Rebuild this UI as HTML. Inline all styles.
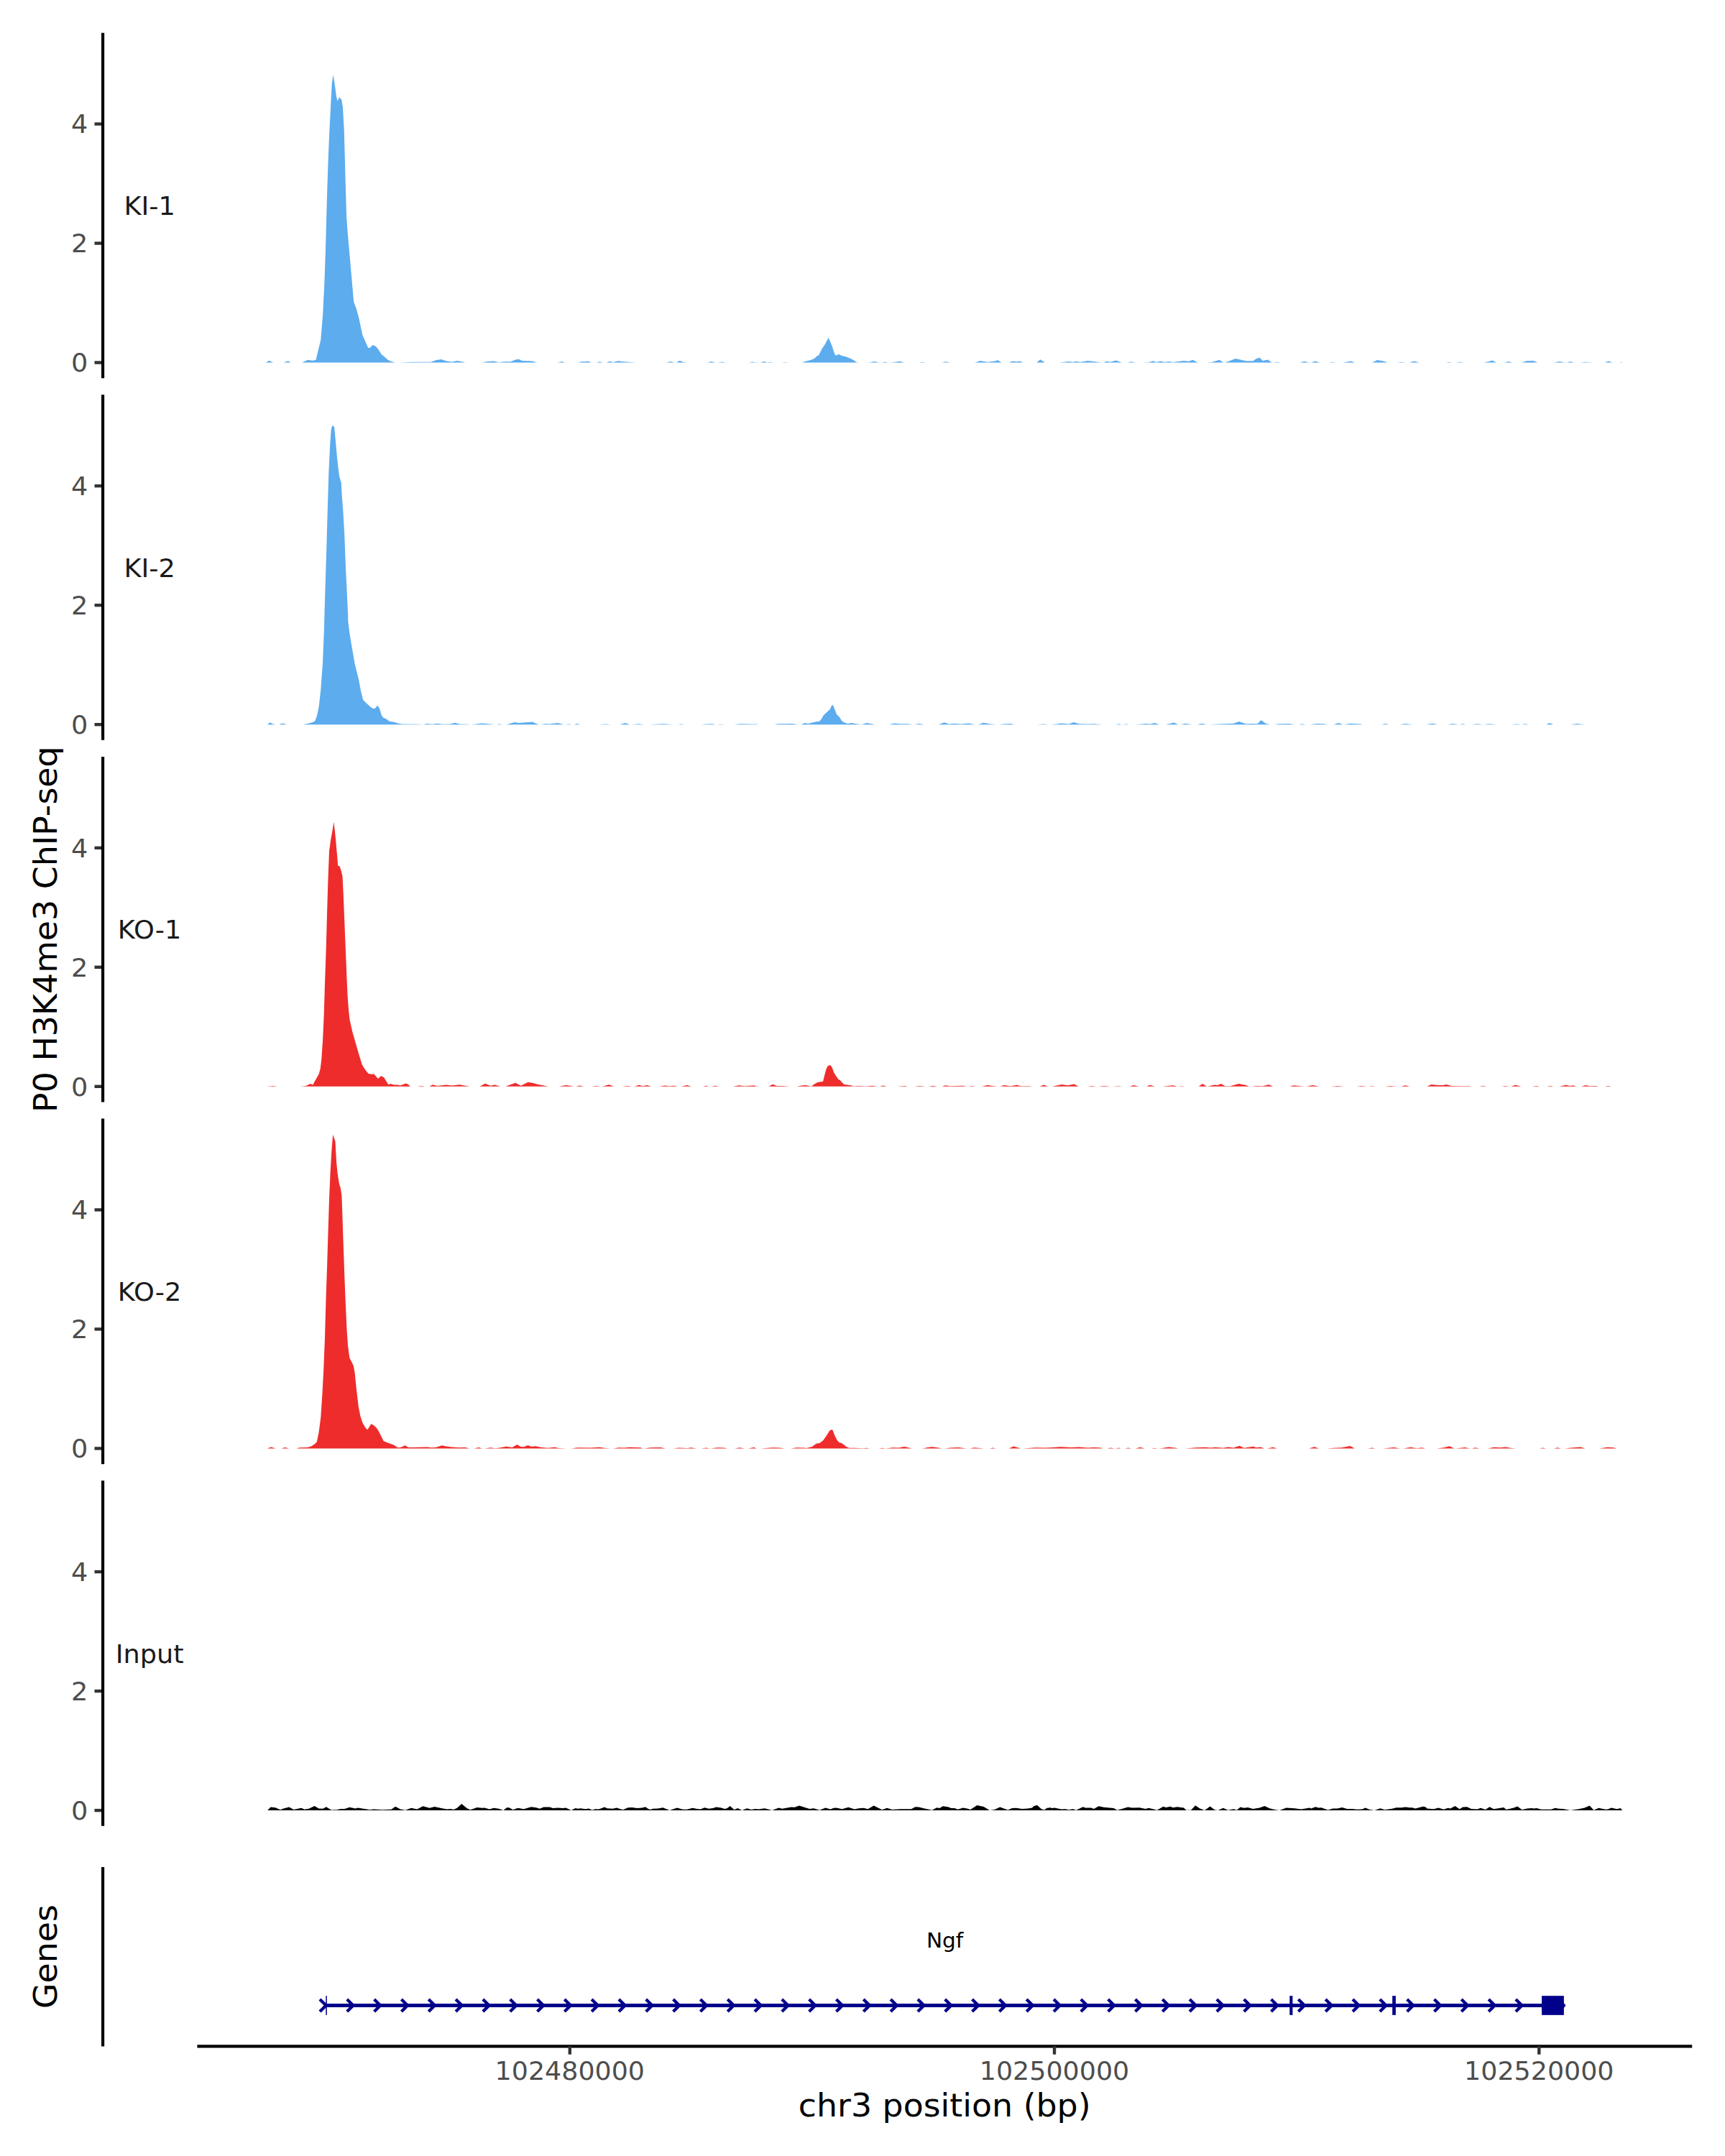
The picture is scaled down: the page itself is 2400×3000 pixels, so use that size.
<!DOCTYPE html>
<html lang="en"><head><meta charset="utf-8"><title>P0 H3K4me3 ChIP-seq - Ngf locus</title>
<style>html,body{margin:0;padding:0;background:#fff}svg{display:block}text{font-family:"DejaVu Sans", "Liberation Sans", sans-serif}</style>
</head><body>
<svg width="2400" height="3000" viewBox="0 0 2400 3000">
<rect width="2400" height="3000" fill="#fff"/>
<g id="track-KI1">
<path fill="#5CACEE" d="M369.6,504.5L369.6,504.5L374.5,501.83L380.07,504.5L380.07,504.5ZM394.54,504.5L394.54,504.5L400.78,502.27L404.57,504.5L404.57,504.5ZM420.16,504.5L420.16,504.5L428.4,500.71L434.63,501.83L439.53,500.71L446.21,473.32L449.11,438.8L451.34,394.26L452.9,349.71L454.68,282.9L456.46,227.22L458.02,189.36L460.24,144.81L461.8,115.86L463.59,104.28L465.81,118.09L468.04,134.79L469.6,140.8L472.05,135.23L475.17,138.58L476.95,149.27L478.73,180.45L480.29,238.35L482.07,300.71L483.63,322.99L486.97,360.85L490.31,398.71L492.09,419.87L495.88,429.89L499.22,442.14L504.34,466.19L512.14,484.01L514.81,484.01L518.6,480L522.61,481.78L525.95,485.57L530.85,493.36L533.74,495.59L539.31,500.49L543.76,502.72L550.45,504.5L550.45,504.5ZM554.9,504.5L554.9,504.5L572.72,503.83L599.44,503.83L606.12,501.16L613.92,500.05L620.6,502.27L628.4,503.39L636.19,502.05L643.99,503.39L647.33,504.5L647.33,504.5ZM670.87,504.5L670.87,504.5L677.83,503.11L687.1,502.41L694.06,504.27L701.01,503.34L710.29,503.34L717.25,500.56L721.88,499.63L726.52,501.95L740.43,502.41L747.39,504.5L747.39,504.5ZM775.22,504.5L775.22,504.5L782.17,502.88L785.65,504.5L785.65,504.5ZM804.2,504.5L804.2,504.5L810,502.88L814.64,503.34L818.12,502.41L822.75,504.5L822.75,504.5ZM829.71,504.5L829.71,504.5L834.35,503.34L838.99,504.5L838.99,504.5ZM843.62,504.5L843.62,504.5L848.26,502.64L852.9,504.04L859.86,502.18L867.97,503.34L885.36,504.5L885.36,504.5ZM927.1,504.5L927.1,504.5L932.9,503.11L938.7,504.5L938.7,504.5ZM941.01,504.5L941.01,504.5L945.65,501.72L950.29,503.8L956.09,504.5L956.09,504.5ZM983.91,504.5L983.91,504.5L989.71,503.11L995.51,504.5L995.51,504.5ZM998.99,504.5L998.99,504.5L1004.78,503.57L1009.42,504.5L1009.42,504.5ZM1041.88,504.5L1041.88,504.5L1046.52,503.57L1050,504.04L1050,504.5ZM1050,504.5L1050,504.5L1052.78,504.08L1054.17,504.5L1054.17,504.5ZM1058.35,504.5L1058.35,504.5L1061.83,503.11L1065.3,503.39L1067.39,504.5L1070.87,503.67L1076.43,504.5L1076.43,504.5ZM1087.57,504.5L1087.57,504.5L1091.74,503.94L1097.3,504.5L1097.3,504.5ZM1116.09,504.5L1116.09,504.5L1119.57,502.97L1125.13,501.72L1130,500.19L1133.48,498.52L1136.54,495.46L1139.32,494.07L1143.22,486L1147.39,479.73L1150.17,474.87L1152.68,469.72L1155.74,476.95L1158.24,483.21L1160.33,490.17L1162.42,494.62L1164.37,494.34L1166.87,492.67L1171.04,495.04L1176.61,496.15L1183.57,498.93L1187.74,501.3L1191.63,504.08L1194.7,504.5L1194.7,504.5ZM1201.65,504.5L1201.65,504.5L1210,504.36L1216.26,502.97L1223.91,504.5L1223.91,504.5ZM1226.7,504.5L1226.7,504.5L1231.57,503.53L1235.74,504.5L1235.74,504.5ZM1238.52,504.5L1238.52,504.5L1244.78,503.8L1252.43,502.69L1258,504.5L1258,504.5ZM1278.17,504.5L1278.17,504.5L1283.04,503.67L1287.91,504.5L1287.91,504.5ZM1310.29,504.5L1310.29,504.5L1316.09,503.34L1321.88,504.5L1321.88,504.5ZM1356.09,504.5L1356.09,504.5L1363.91,501.89L1374.06,503.63L1382.75,502.76L1388.55,501.31L1393.48,504.5L1393.48,504.5ZM1403.62,504.5L1403.62,504.5L1408.84,502.47L1414.06,503.34L1418.99,502.47L1423.33,504.5L1423.33,504.5ZM1442.17,504.5L1442.17,504.5L1447.39,500.15L1453.77,504.5L1453.77,504.5ZM1473.19,504.5L1473.19,504.5L1487.1,503.05L1492.9,503.63L1497.25,502.76L1503.04,503.63L1513.19,501.89L1521.88,503.05L1532.9,504.5L1532.9,504.5ZM1534.93,504.5L1534.93,504.5L1539.86,502.76L1545.07,503.63L1552.32,501.6L1561.01,504.5L1561.01,504.5ZM1568.26,504.5L1568.26,504.5L1574.06,503.34L1579.86,504.5L1579.86,504.5ZM1590,504.5L1590,504.5L1598.7,503.92L1604.49,502.18L1608.84,503.92L1614.64,502.47L1620.43,503.63L1626.23,503.05L1632.03,503.92L1646.52,501.89L1653.77,502.76L1659.57,500.73L1666.81,504.5L1666.81,504.5ZM1677.83,504.5L1677.83,504.5L1685.65,503.92L1696.67,500.73L1702.17,504.5L1702.17,504.5ZM1704.49,504.5L1704.49,504.5L1718.99,498.99L1733.48,502.18L1743.62,502.18L1747.97,498.99L1752.9,497.83L1756.67,501.89L1763.91,500.44L1769.71,504.5L1769.71,504.5ZM1771.16,504.5L1771.16,504.5L1776.96,503.63L1781.3,504.5L1781.3,504.5ZM1808.41,504.5L1808.41,504.5L1814.78,502.76L1822.03,504.5L1822.03,504.5ZM1824.06,504.5L1824.06,504.5L1829.86,502.47L1836.52,504.5L1836.52,504.5ZM1848.99,504.5L1848.99,504.5L1853.91,503.63L1858.26,504.5L1858.26,504.5ZM1867.83,504.5L1867.83,504.5L1880,502.47L1884.93,504.5L1884.93,504.5ZM1908.99,504.5L1908.99,504.5L1916.23,501.02L1924.93,502.47L1930.72,504.5L1930.72,504.5ZM1943.77,504.5L1943.77,504.5L1949.57,503.63L1955.36,504.5L1955.36,504.5ZM1960.29,504.5L1960.29,504.5L1967.83,502.47L1974.78,504.5L1974.78,504.5ZM2011.88,504.5L2011.88,504.5L2016.23,503.63L2020.58,504.5L2020.58,504.5ZM2025.8,504.5L2025.8,504.5L2030.72,503.63L2036.52,504.5L2036.52,504.5ZM2064.06,504.5L2064.06,504.5L2071.3,503.05L2076.23,501.6L2082.03,504.5L2082.03,504.5ZM2093.04,504.5L2093.04,504.5L2098.84,503.05L2104.64,504.5L2104.64,504.5ZM2117.1,504.5L2117.1,504.5L2123.48,502.18L2133.62,501.89L2139.42,504.5L2139.42,504.5ZM2161.16,504.5L2161.16,504.5L2169.86,503.05L2177.68,504.5L2177.68,504.5ZM2180,504.5L2180,504.5L2184.93,503.05L2190.14,504.5L2190.14,504.5ZM2198.84,504.5L2198.84,504.5L2204.64,503.63L2217.68,504.5L2217.68,504.5ZM2232.75,504.5L2232.75,504.5L2237.97,502.47L2243.77,504.5L2243.77,504.5ZM2253.91,504.5L2253.91,504.5L2255.94,503.63L2257.68,504.5L2257.68,504.5Z"/>
<line x1="143.08" x2="143.08" y1="45.65" y2="526.2" stroke="#000" stroke-width="4.17"/>
<line x1="131.5" x2="141" y1="504.5" y2="504.5" stroke="#333" stroke-width="4.4"/>
<text transform="translate(122.3,517.4) scale(1,0.95)" font-size="36.67" fill="#4d4d4d" text-anchor="end">0</text>
<line x1="131.5" x2="141" y1="338.5" y2="338.5" stroke="#333" stroke-width="4.4"/>
<text transform="translate(122.3,351.4) scale(1,0.95)" font-size="36.67" fill="#4d4d4d" text-anchor="end">2</text>
<line x1="131.5" x2="141" y1="172.5" y2="172.5" stroke="#333" stroke-width="4.4"/>
<text transform="translate(122.3,185.4) scale(1,0.95)" font-size="36.67" fill="#4d4d4d" text-anchor="end">4</text>
<text transform="translate(208.1,298.93) scale(1,0.96)" font-size="36.67" fill="#1a1a1a" text-anchor="middle">KI-1</text>
</g>
<g id="track-KI2">
<path fill="#5CACEE" d="M371.83,1008.15L371.83,1008.15L375.61,1005.25L380.07,1007.48L383.41,1008.15L383.41,1008.15ZM387.86,1008.15L387.86,1008.15L393.43,1006.59L399,1008.15L399,1008.15ZM421.27,1008.15L421.27,1008.15L429.06,1006.81L435.75,1004.81L438.42,1003.03L440.87,996.35L443.54,984.1L446.21,960.71L449.11,920.62L450.89,876.08L452.45,820.4L454.23,764.72L455.79,709.04L457.35,657.82L459.13,619.95L460.69,597.68L462.47,591.67L465.14,594.34L466.48,608.82L468.49,631.09L470.27,648.91L472.05,662.27L473.83,668.95L474.72,671.18L475.84,691.22L477.39,711.27L479.18,742.45L480.96,789.22L482.52,820.4L484.08,853.81L484.3,864.94L486.3,880.53L489.2,898.35L493.65,923.96L499.22,946.23L502.12,961.82L505.23,974.07L510.36,978.97L515.92,984.1L519.27,985.88L521.49,985.88L525.28,981.42L528.17,986.32L530.85,995.23L533.07,998.57L537.08,1000.35L541.98,1003.7L548.22,1004.81L553.79,1006.59L559.35,1007.48L581.63,1007.7L589.42,1008.15L593.21,1007.04L601.67,1007.7L608.35,1006.81L616.15,1007.7L626.17,1007.48L632.85,1005.7L639.53,1007.48L650,1007.7L650,1008.15ZM650,1008.15L650,1007.69L654.64,1008.15L654.64,1008.15ZM655.8,1008.15L655.8,1008.15L670.87,1006.53L684.78,1007.69L687.1,1008.15L687.1,1008.15ZM690.58,1008.15L690.58,1008.15L695.22,1007.45L698.7,1008.15L698.7,1008.15ZM704.49,1008.15L704.49,1008.15L716.09,1004.9L721.88,1006.06L740.43,1004.44L749.71,1008.15L749.71,1008.15ZM753.19,1008.15L753.19,1008.15L758.99,1006.99L763.62,1007.45L776.38,1006.06L784.49,1008.15L784.49,1008.15ZM786.81,1008.15L786.81,1008.15L791.45,1007.45L796.09,1008.15L796.09,1008.15ZM798.41,1008.15L798.41,1008.15L803.04,1006.99L807.68,1008.15L807.68,1008.15ZM833.19,1008.15L833.19,1008.15L842.46,1007.45L850.58,1008.15L850.58,1008.15ZM862.17,1008.15L862.17,1008.15L870.29,1006.06L876.09,1008.15L876.09,1008.15ZM879.57,1008.15L879.57,1008.15L888.84,1007.22L895.8,1008.15L895.8,1008.15ZM903.91,1008.15L903.91,1008.15L912.03,1007.69L923.62,1007.22L936.38,1008.15L936.38,1008.15ZM943.33,1008.15L943.33,1008.15L947.97,1007.45L952.61,1008.15L952.61,1008.15ZM975.8,1008.15L975.8,1008.15L980.43,1007.69L990.87,1007.22L995.51,1008.15L995.51,1008.15ZM997.83,1008.15L997.83,1008.15L1003.62,1007.69L1008.26,1008.15L1008.26,1008.15ZM1021.01,1008.15L1021.01,1008.15L1030.29,1007.22L1050,1007.69L1050,1008.15ZM1050,1008.15L1050,1007.18L1054.87,1008.15L1054.87,1008.15ZM1077.83,1008.15L1077.83,1008.15L1082,1007.18L1102.87,1006.9L1110.52,1008.15L1110.52,1008.15ZM1114.7,1008.15L1114.7,1008.15L1119.57,1005.92L1124.43,1006.9L1132.09,1005.09L1136.96,1003.98L1139.74,1003.98L1142.52,1000.92L1146,995.07L1150.17,991.18L1154.35,987.42L1157.41,981.16L1159.22,981.44L1161.3,987L1164.09,993.96L1168.26,998.13L1171.04,1003L1173.83,1005.09L1179.39,1007.04L1184.26,1006.06L1190.52,1006.9L1197.48,1008.15L1197.48,1008.15ZM1198.87,1008.15L1198.87,1008.15L1205.83,1006.06L1211.39,1007.04L1217.65,1008.15L1217.65,1008.15ZM1237.13,1008.15L1237.13,1008.15L1244.09,1006.48L1251.74,1007.32L1262.87,1007.18L1269.83,1008.15L1269.83,1008.15ZM1271.91,1008.15L1271.91,1008.15L1279.57,1006.9L1285.83,1008.15L1285.83,1008.15ZM1305.94,1008.15L1305.94,1008.15L1313.77,1005.25L1320.43,1007.57L1327.68,1006.7L1336.38,1007.57L1347.97,1006.41L1356.67,1008.15L1356.67,1008.15ZM1361.01,1008.15L1361.01,1008.15L1368.26,1005.83L1376.96,1007.28L1385.65,1008.15L1385.65,1008.15ZM1390,1008.15L1390,1008.15L1395.8,1007.57L1405.94,1006.99L1411.74,1008.15L1411.74,1008.15ZM1442.17,1008.15L1442.17,1008.15L1452.32,1007.57L1458.12,1008.15L1458.12,1008.15ZM1461.01,1008.15L1461.01,1008.15L1469.71,1007.57L1476.96,1006.41L1487.1,1007.57L1493.77,1004.96L1501.59,1007.28L1513.19,1007.57L1521.88,1007.28L1533.48,1008.15L1533.48,1008.15ZM1552.32,1008.15L1552.32,1008.15L1556.67,1007.28L1561.01,1008.15L1561.01,1008.15ZM1562.46,1008.15L1562.46,1008.15L1566.81,1007.57L1571.16,1008.15L1571.16,1008.15ZM1579.86,1008.15L1579.86,1008.15L1594.35,1006.99L1600.14,1007.57L1606.52,1006.12L1613.19,1008.15L1613.19,1008.15ZM1621.88,1008.15L1621.88,1008.15L1633.48,1005.54L1639.28,1008.15L1639.28,1008.15ZM1642.17,1008.15L1642.17,1008.15L1649.42,1006.7L1658.12,1008.15L1658.12,1008.15ZM1665.36,1008.15L1665.36,1008.15L1672.61,1006.7L1678.41,1008.15L1678.41,1008.15ZM1682.75,1008.15L1682.75,1008.15L1695.8,1007.57L1716.09,1006.7L1723.91,1004.09L1733.48,1007.28L1742.17,1006.99L1749.42,1007.28L1754.64,1002.06L1761.01,1006.7L1766.81,1008.15L1766.81,1008.15ZM1772.61,1008.15L1772.61,1008.15L1779.86,1007.28L1790,1007.28L1790,1008.15ZM1780,1008.15L1780,1007.28L1794.49,1006.99L1800.29,1008.15L1800.29,1008.15ZM1807.54,1008.15L1807.54,1008.15L1811.88,1007.28L1816.23,1008.15L1816.23,1008.15ZM1822.03,1008.15L1822.03,1008.15L1832.17,1006.99L1842.32,1007.28L1846.67,1008.15L1846.67,1008.15ZM1855.36,1008.15L1855.36,1008.15L1862.61,1006.12L1868.41,1008.15L1868.41,1008.15ZM1869.86,1008.15L1869.86,1008.15L1878.55,1006.7L1893.04,1007.57L1895.94,1008.15L1895.94,1008.15ZM1922.03,1008.15L1922.03,1008.15L1927.83,1006.99L1932.17,1008.15L1932.17,1008.15ZM1947.54,1008.15L1947.54,1008.15L1955.36,1006.99L1965.51,1008.15L1965.51,1008.15ZM1984.35,1008.15L1984.35,1008.15L1993.04,1006.7L2000.29,1008.15L2000.29,1008.15ZM2014.78,1008.15L2014.78,1008.15L2020.58,1006.99L2029.28,1008.15L2029.28,1008.15ZM2030.72,1008.15L2030.72,1008.15L2035.07,1007.28L2039.42,1008.15L2039.42,1008.15ZM2048.12,1008.15L2048.12,1008.15L2055.36,1007.28L2062.61,1008.15L2062.61,1008.15ZM2064.06,1008.15L2064.06,1008.15L2072.75,1007.28L2081.45,1008.15L2081.45,1008.15ZM2103.19,1008.15L2103.19,1008.15L2110.43,1007.57L2116.23,1008.15L2116.23,1008.15ZM2117.68,1008.15L2117.68,1008.15L2122.03,1007.28L2126.38,1008.15L2126.38,1008.15ZM2151.01,1008.15L2151.01,1008.15L2156.23,1006.12L2161.16,1008.15L2161.16,1008.15ZM2184.35,1008.15L2184.35,1008.15L2194.49,1006.99L2204.64,1008.15L2204.64,1008.15Z"/>
<line x1="143.08" x2="143.08" y1="549.3" y2="1029.85" stroke="#000" stroke-width="4.17"/>
<line x1="131.5" x2="141" y1="1008.15" y2="1008.15" stroke="#333" stroke-width="4.4"/>
<text transform="translate(122.3,1021.05) scale(1,0.95)" font-size="36.67" fill="#4d4d4d" text-anchor="end">0</text>
<line x1="131.5" x2="141" y1="842.15" y2="842.15" stroke="#333" stroke-width="4.4"/>
<text transform="translate(122.3,855.05) scale(1,0.95)" font-size="36.67" fill="#4d4d4d" text-anchor="end">2</text>
<line x1="131.5" x2="141" y1="676.15" y2="676.15" stroke="#333" stroke-width="4.4"/>
<text transform="translate(122.3,689.05) scale(1,0.95)" font-size="36.67" fill="#4d4d4d" text-anchor="end">4</text>
<text transform="translate(208.1,802.57) scale(1,0.96)" font-size="36.67" fill="#1a1a1a" text-anchor="middle">KI-2</text>
</g>
<g id="track-KO1">
<path fill="#EE2C2C" d="M371.16,1511.8L371.16,1511.8L380.07,1510.91L385.63,1511.8L385.63,1511.8ZM417.93,1511.8L417.93,1511.8L425.72,1510.91L431.96,1508.01L435.3,1509.57L439.09,1502.45L443.54,1494.65L445.77,1486.86L447.33,1473.49L449.11,1446.77L450.67,1413.36L452,1368.82L453.56,1324.27L455.12,1268.59L456.46,1224.05L458.02,1183.96L460.24,1168.37L462.47,1156.12L464.48,1143.87L466.48,1161.69L468.49,1183.96L470.27,1204.67L472.49,1205.12L474.72,1211.8L476.5,1219.6L477.62,1241.87L479.18,1279.73L480.96,1324.27L482.52,1362.13L483.63,1386.63L485.19,1406.68L486.53,1418.93L490.31,1435.63L494.77,1451.22L499.22,1466.81L503.67,1481.29L508.13,1488.41L512.58,1493.98L517.04,1494.65L520.38,1494.43L525.95,1500.89L530.4,1496.88L534.41,1499.55L538.2,1505.79L540.42,1509.13L543.32,1508.01L548.22,1509.57L552.67,1509.57L557.13,1510.24L564.92,1507.57L568.26,1509.13L570.94,1511.8L570.94,1511.8ZM580.51,1511.8L580.51,1511.8L587.19,1510.91L590.98,1511.8L590.98,1511.8ZM597.22,1511.8L597.22,1511.8L602.12,1509.13L608.35,1510.91L620.6,1509.57L628.4,1510.46L639.53,1509.13L650,1511.35L650,1511.8ZM650,1511.8L650,1511.1L652.78,1511.8L652.78,1511.8ZM667.39,1511.8L667.39,1511.8L675.04,1507.63L682.46,1510.64L688.26,1509.48L696.38,1511.8L696.38,1511.8ZM703.33,1511.8L703.33,1511.8L717.25,1506.7L724.67,1510.87L734.64,1505.77L741.59,1506.93L749.71,1509.25L756.67,1510.41L762.46,1511.8L762.46,1511.8ZM777.54,1511.8L777.54,1511.8L787.97,1509.94L798.41,1511.8L798.41,1511.8ZM801.19,1511.8L801.19,1511.8L806.52,1510.41L812.32,1511.8L812.32,1511.8ZM822.75,1511.8L822.75,1511.8L829.71,1511.1L835.51,1511.8L835.51,1511.8ZM838.29,1511.8L838.29,1511.8L847.1,1509.25L854.06,1511.8L854.06,1511.8ZM865.65,1511.8L865.65,1511.8L872.61,1511.1L879.57,1511.8L879.57,1511.8ZM883.04,1511.8L883.04,1511.8L888.84,1509.71L894.64,1511.34L899.97,1509.94L906.23,1511.8L906.23,1511.8ZM917.83,1511.8L917.83,1511.8L924.78,1510.41L931.74,1511.34L937.54,1510.64L943.33,1511.8L943.33,1511.8ZM947.97,1511.8L947.97,1511.8L955.62,1509.94L961.88,1511.8L961.88,1511.8ZM978.12,1511.8L978.12,1511.8L982.06,1510.87L986.23,1511.8L986.23,1511.8ZM989.71,1511.8L989.71,1511.8L995.04,1510.87L1000.14,1511.8L1000.14,1511.8ZM1019.86,1511.8L1019.86,1511.8L1027.97,1510.18L1036.09,1511.34L1050,1510.18L1050,1511.8ZM1050,1511.8L1050,1510.97L1055.57,1511.8L1055.57,1511.8ZM1069.48,1511.8L1069.48,1511.8L1075.04,1508.74L1080.61,1510.97L1088.96,1510.97L1098.7,1511.8L1098.7,1511.8ZM1108.43,1511.8L1108.43,1511.8L1115.39,1510.41L1120.96,1509.99L1125.83,1510.97L1128.61,1511.8L1133.48,1508.18L1137.65,1506.1L1141.83,1505.26L1145.03,1504.98L1147.39,1495.38L1149.48,1487.73L1151.57,1483.56L1153.65,1482.17L1155.74,1482.44L1157.83,1485.64L1160.33,1492.6L1163.39,1497.47L1166.59,1502.06L1168.96,1503.31L1172.43,1507.21L1174.52,1509.02L1183.57,1510.27L1187.74,1511.38L1194.7,1510.97L1204.43,1511.52L1213.48,1510.69L1221.13,1511.8L1221.13,1511.8ZM1223.91,1511.8L1223.91,1511.8L1228.78,1510.41L1233.65,1511.8L1233.65,1511.8ZM1247.57,1511.8L1247.57,1511.8L1258.7,1510.97L1262.87,1511.8L1262.87,1511.8ZM1272.61,1511.8L1272.61,1511.8L1279.57,1511.1L1287.91,1511.8L1287.91,1511.8ZM1291.45,1511.8L1291.45,1511.8L1298.12,1510.64L1303.91,1511.8L1303.91,1511.8ZM1310.87,1511.8L1310.87,1511.8L1315.51,1510.35L1321.88,1511.22L1339.28,1510.64L1345.07,1511.8L1345.07,1511.8ZM1347.97,1511.8L1347.97,1511.8L1352.32,1510.93L1357.25,1511.8L1357.25,1511.8ZM1365.94,1511.8L1365.94,1511.8L1374.06,1510.06L1382.75,1511.22L1388.55,1511.8L1388.55,1511.8ZM1391.45,1511.8L1391.45,1511.8L1397.25,1510.06L1405.94,1511.22L1414.64,1509.77L1420.43,1511.22L1433.48,1511.22L1434.93,1511.8L1434.93,1511.8ZM1446.52,1511.8L1446.52,1511.8L1452.32,1509.48L1457.54,1511.8L1457.54,1511.8ZM1463.91,1511.8L1463.91,1511.8L1476.96,1508.9L1485.65,1510.35L1494.35,1508.61L1500.72,1511.8L1500.72,1511.8ZM1513.19,1511.8L1513.19,1511.8L1518.99,1510.93L1524.78,1511.8L1524.78,1511.8ZM1527.68,1511.8L1527.68,1511.8L1536.38,1510.93L1545.07,1511.8L1545.07,1511.8ZM1547.97,1511.8L1547.97,1511.8L1555.22,1511.22L1562.46,1511.8L1562.46,1511.8ZM1571.74,1511.8L1571.74,1511.8L1577.54,1510.06L1584.2,1511.8L1584.2,1511.8ZM1594.93,1511.8L1594.93,1511.8L1600.14,1509.77L1606.52,1511.8L1606.52,1511.8ZM1617.54,1511.8L1617.54,1511.8L1632.03,1510.35L1637.83,1511.8L1637.83,1511.8ZM1639.28,1511.8L1639.28,1511.8L1643.62,1511.22L1648.84,1511.8L1648.84,1511.8ZM1667.68,1511.8L1667.68,1511.8L1673.19,1508.03L1678.99,1511.8L1678.99,1511.8ZM1679.86,1511.8L1679.86,1511.8L1690,1509.48L1694.35,1510.06L1698.7,1508.03L1704.49,1511.22L1711.74,1511.22L1723.33,1508.03L1733.48,1510.06L1737.83,1511.8L1737.83,1511.8ZM1741.59,1511.8L1741.59,1511.8L1747.97,1510.93L1756.67,1511.22L1765.36,1509.19L1771.16,1511.8L1771.16,1511.8ZM1794.49,1511.8L1794.49,1511.8L1800.29,1510.35L1811.88,1511.51L1816.23,1511.8L1816.23,1511.8ZM1817.68,1511.8L1817.68,1511.8L1826.38,1510.06L1835.07,1511.8L1835.07,1511.8ZM1851.88,1511.8L1851.88,1511.8L1861.16,1510.93L1869.86,1511.8L1869.86,1511.8ZM1887.25,1511.8L1887.25,1511.8L1894.49,1510.93L1901.74,1511.8L1901.74,1511.8ZM1903.19,1511.8L1903.19,1511.8L1908.99,1511.22L1913.91,1511.8L1913.91,1511.8ZM1926.38,1511.8L1926.38,1511.8L1935.07,1510.93L1943.77,1511.8L1943.77,1511.8ZM1949.57,1511.8L1949.57,1511.8L1955.36,1510.35L1961.16,1511.8L1961.16,1511.8ZM1985.22,1511.8L1985.22,1511.8L1991.59,1508.9L2000.29,1510.06L2007.54,1510.06L2012.46,1508.9L2019.13,1510.93L2032.17,1511.22L2045.22,1511.22L2046.67,1511.8L2046.67,1511.8ZM2058.26,1511.8L2058.26,1511.8L2063.48,1510.93L2068.41,1511.8L2068.41,1511.8ZM2089.57,1511.8L2089.57,1511.8L2094.49,1510.93L2099.71,1511.8L2099.71,1511.8ZM2102.32,1511.8L2102.32,1511.8L2108.41,1509.77L2116.23,1511.8L2116.23,1511.8ZM2131.59,1511.8L2131.59,1511.8L2137.39,1510.93L2142.32,1511.8L2142.32,1511.8ZM2151.88,1511.8L2151.88,1511.8L2156.81,1510.93L2162.03,1511.8L2162.03,1511.8ZM2169.86,1511.8L2169.86,1511.8L2178.55,1509.77L2184.35,1510.93L2188.7,1510.35L2193.04,1511.8L2193.04,1511.8ZM2200.29,1511.8L2200.29,1511.8L2206.09,1510.06L2211.88,1511.22L2220.58,1510.93L2223.48,1511.8L2223.48,1511.8ZM2232.75,1511.8L2232.75,1511.8L2237.39,1510.93L2242.32,1511.8L2242.32,1511.8Z"/>
<line x1="143.08" x2="143.08" y1="1052.95" y2="1533.5" stroke="#000" stroke-width="4.17"/>
<line x1="131.5" x2="141" y1="1511.8" y2="1511.8" stroke="#333" stroke-width="4.4"/>
<text transform="translate(122.3,1524.7) scale(1,0.95)" font-size="36.67" fill="#4d4d4d" text-anchor="end">0</text>
<line x1="131.5" x2="141" y1="1345.8" y2="1345.8" stroke="#333" stroke-width="4.4"/>
<text transform="translate(122.3,1358.7) scale(1,0.95)" font-size="36.67" fill="#4d4d4d" text-anchor="end">2</text>
<line x1="131.5" x2="141" y1="1179.8" y2="1179.8" stroke="#333" stroke-width="4.4"/>
<text transform="translate(122.3,1192.7) scale(1,0.95)" font-size="36.67" fill="#4d4d4d" text-anchor="end">4</text>
<text transform="translate(208.1,1306.23) scale(1,0.96)" font-size="36.67" fill="#1a1a1a" text-anchor="middle">KO-1</text>
</g>
<g id="track-KO2">
<path fill="#EE2C2C" d="M371.83,2015.45L371.83,2015.45L377.17,2013.45L383.41,2015.45L383.41,2015.45ZM391.2,2015.45L391.2,2015.45L396.77,2014.11L402.34,2015.45L402.34,2015.45ZM412.36,2015.45L412.36,2015.45L416.82,2014.34L427.95,2013.89L433.52,2012.33L437.97,2009.21L440.87,2006.32L443.54,1992.96L446.21,1972.91L448.44,1939.5L450.22,1906.1L452,1861.55L453.56,1805.87L455.12,1761.33L456.46,1716.79L458.02,1667.79L459.58,1632.15L461.36,1600.97L463.14,1578.7L466.48,1588.06L468.04,1616.56L469.6,1632.15L471.83,1646.63L473.83,1653.31L475.39,1663.33L476.28,1687.83L477.62,1727.92L479.18,1772.47L480.96,1817.01L482.52,1850.42L484.08,1872.69L486.3,1889.39L489.2,1894.96L491.87,1900.53L493.65,1910.55L495.88,1932.82L498.78,1957.32L501.45,1970.68L504.34,1979.59L508.13,1986.27L511.25,1989.61L516.37,1981.37L520.38,1983.38L523.72,1986.72L527.06,1991.84L533.74,2005.21L539.31,2007.43L548.22,2010.77L552.67,2013.89L556.01,2014.34L559.35,2013.22L563.36,2011.22L568.26,2013.89L572.72,2014.11L583.85,2013.67L594.99,2013.45L599.44,2014.34L606.12,2014.11L615.03,2011.22L620.6,2012.55L628.4,2013.45L639.53,2014.34L646.21,2013.89L650,2014.56L650,2015.45ZM650,2015.45L650,2014.75L653.48,2015.45L653.48,2015.45ZM659.28,2015.45L659.28,2015.45L666.23,2014.06L670.87,2015.45L670.87,2015.45ZM674.35,2015.45L674.35,2015.45L682.46,2014.29L689.42,2015.22L696.38,2014.29L704.49,2012.67L712.61,2014.06L719.57,2010.12L724.2,2012.9L728.84,2013.36L734.64,2011.04L739.28,2012.9L745.07,2012.2L752.03,2013.83L761.3,2014.75L771.74,2013.83L777.54,2014.99L789.13,2015.45L789.13,2015.45ZM794.93,2015.45L794.93,2015.45L803.04,2014.29L821.59,2014.52L834.35,2013.83L842.46,2014.99L849.42,2015.45L849.42,2015.45ZM852.9,2015.45L852.9,2015.45L861.01,2014.29L869.13,2014.52L876.09,2013.83L891.16,2014.29L894.64,2015.45L894.64,2015.45ZM896.26,2015.45L896.26,2015.45L905.07,2014.29L918.99,2014.06L925.94,2015.45L925.94,2015.45ZM937.07,2015.45L937.07,2015.45L944.49,2014.52L956.09,2014.99L961.88,2014.29L968.84,2015.45L968.84,2015.45ZM975.8,2015.45L975.8,2015.45L982.75,2014.52L987.39,2015.45L987.39,2015.45ZM989.01,2015.45L989.01,2015.45L997.83,2014.29L1007.1,2014.52L1012.2,2015.45L1012.2,2015.45ZM1022.17,2015.45L1022.17,2015.45L1029.13,2014.29L1036.09,2015.45L1036.09,2015.45ZM1040.72,2015.45L1040.72,2015.45L1050,2013.83L1050,2015.45ZM1050,2015.45L1050,2014.75L1053.48,2015.45L1053.48,2015.45ZM1057.65,2015.45L1057.65,2015.45L1075.04,2014.2L1084.78,2014.48L1091.74,2015.45L1091.74,2015.45ZM1100.09,2015.45L1100.09,2015.45L1108.43,2014.34L1119.57,2014.48L1121.65,2015.03L1130,2012.95L1133.48,2010.3L1136.96,2008.22L1139.04,2008.49L1141.83,2007.1L1145.3,2004.32L1150.17,1997.36L1154.35,1990.41L1157.13,1989.29L1158.52,1989.99L1161.3,1997.36L1164.78,2004.32L1167.98,2007.38L1170.35,2007.8L1173.83,2009.88L1177.3,2013.08L1181.48,2014.75L1189.13,2014.75L1200.26,2015.17L1205.83,2014.75L1210,2015.45L1210,2015.45ZM1222.52,2015.45L1222.52,2015.45L1228.09,2014.75L1232.26,2015.45L1242,2014.34L1250.35,2014.62L1258,2013.08L1262.87,2014.06L1268.43,2015.45L1268.43,2015.45ZM1283.04,2015.45L1283.04,2015.45L1290,2014.34L1290,2015.45ZM1290,2015.45L1290,2014L1297.25,2013.13L1305.94,2014.58L1310.29,2015.45L1310.29,2015.45ZM1314.64,2015.45L1314.64,2015.45L1321.88,2014.58L1333.48,2014L1345.07,2015.45L1345.07,2015.45ZM1349.42,2015.45L1349.42,2015.45L1355.22,2014.29L1366.81,2015.16L1368.26,2015.45L1368.26,2015.45ZM1376.96,2015.45L1376.96,2015.45L1381.3,2014.58L1385.65,2015.45L1385.65,2015.45ZM1403.62,2015.45L1403.62,2015.45L1410.29,2012.55L1417.54,2014.87L1420.43,2015.45L1420.43,2015.45ZM1423.33,2015.45L1423.33,2015.45L1440.72,2014.29L1452.32,2014.58L1461.01,2014.29L1475.51,2013.13L1490,2014L1501.59,2013.42L1513.19,2014.58L1521.88,2014L1532.03,2014.58L1533.48,2015.45L1533.48,2015.45ZM1540.72,2015.45L1540.72,2015.45L1545.07,2014.58L1550.87,2015.45L1550.87,2015.45ZM1552.32,2015.45L1552.32,2015.45L1556.09,2014.58L1559.57,2015.45L1559.57,2015.45ZM1565.36,2015.45L1565.36,2015.45L1569.71,2014.58L1574.06,2015.45L1574.06,2015.45ZM1579.86,2015.45L1579.86,2015.45L1586.23,2013.71L1592.9,2015.45L1592.9,2015.45ZM1602.46,2015.45L1602.46,2015.45L1605.94,2014.87L1610.29,2015.45L1610.29,2015.45ZM1613.19,2015.45L1613.19,2015.45L1626.23,2013.42L1636.38,2014.87L1639.28,2015.45L1639.28,2015.45ZM1648.84,2015.45L1648.84,2015.45L1663.91,2014.29L1676.96,2013.71L1684.2,2014.58L1691.45,2013.71L1701.59,2014.87L1708.84,2013.42L1716.09,2014.58L1724.78,2011.68L1730.58,2014.87L1743.62,2012.84L1747.97,2014.29L1753.77,2013.42L1758.99,2015.45L1758.99,2015.45ZM1763.04,2015.45L1763.04,2015.45L1771.16,2013.71L1776.96,2015.45L1776.96,2015.45ZM1821.16,2015.45L1821.16,2015.45L1828.7,2013.13L1835.07,2015.45L1835.07,2015.45ZM1846.09,2015.45L1846.09,2015.45L1855.36,2014.87L1866.96,2014.29L1878.55,2011.97L1884.93,2015.45L1884.93,2015.45ZM1903.19,2015.45L1903.19,2015.45L1908.99,2014.58L1913.33,2015.45L1913.33,2015.45ZM1924.06,2015.45L1924.06,2015.45L1939.42,2014L1948.12,2015.45L1948.12,2015.45ZM1952.46,2015.45L1952.46,2015.45L1962.61,2013.71L1971.3,2015.16L1978.55,2014.29L1982.9,2015.45L1982.9,2015.45ZM1998.84,2015.45L1998.84,2015.45L2008.99,2014.29L2016.81,2012.26L2023.48,2015.45L2023.48,2015.45ZM2024.93,2015.45L2024.93,2015.45L2037.97,2014L2045.22,2015.45L2045.22,2015.45ZM2048.12,2015.45L2048.12,2015.45L2052.46,2014.29L2058.26,2015.45L2058.26,2015.45ZM2069.86,2015.45L2069.86,2015.45L2078.55,2013.71L2087.25,2014.29L2094.49,2013.42L2101.74,2014.87L2108.99,2015.45L2108.99,2015.45ZM2142.32,2015.45L2142.32,2015.45L2146.67,2014.58L2151.01,2015.45L2151.01,2015.45ZM2162.03,2015.45L2162.03,2015.45L2166.96,2014.29L2171.88,2015.45L2171.88,2015.45ZM2177.1,2015.45L2177.1,2015.45L2185.8,2014.58L2198.84,2013.42L2205.51,2015.45L2205.51,2015.45ZM2224.93,2015.45L2224.93,2015.45L2236.52,2013.71L2245.22,2014.29L2248.99,2015.45L2248.99,2015.45Z"/>
<line x1="143.08" x2="143.08" y1="1556.6" y2="2037.15" stroke="#000" stroke-width="4.17"/>
<line x1="131.5" x2="141" y1="2015.45" y2="2015.45" stroke="#333" stroke-width="4.4"/>
<text transform="translate(122.3,2028.35) scale(1,0.95)" font-size="36.67" fill="#4d4d4d" text-anchor="end">0</text>
<line x1="131.5" x2="141" y1="1849.45" y2="1849.45" stroke="#333" stroke-width="4.4"/>
<text transform="translate(122.3,1862.35) scale(1,0.95)" font-size="36.67" fill="#4d4d4d" text-anchor="end">2</text>
<line x1="131.5" x2="141" y1="1683.45" y2="1683.45" stroke="#333" stroke-width="4.4"/>
<text transform="translate(122.3,1696.35) scale(1,0.95)" font-size="36.67" fill="#4d4d4d" text-anchor="end">4</text>
<text transform="translate(208.1,1809.88) scale(1,0.96)" font-size="36.67" fill="#1a1a1a" text-anchor="middle">KO-2</text>
</g>
<g id="track-IN">
<path fill="#000000" d="M372.06,2519.1L372.06,2519.1L376.7,2514.46L383.19,2515.16L390.14,2518.17L393.62,2516.78L402.2,2514.46L408.7,2517.94L419.13,2515.85L423.77,2517.71L429.57,2516.78L437.68,2513.07L443.48,2516.55L449.28,2516.78L453.91,2514.23L460.87,2518.4L468.99,2518.17L473.62,2517.01L479.42,2517.01L486.38,2514.69L494.49,2516.55L497.97,2515.39L514.2,2518.17L520,2517.48L531.59,2518.17L544.35,2517.71L550.14,2513.77L557.1,2517.48L564.06,2518.64L572.17,2515.85L580.29,2517.48L588.41,2513.3L597.68,2515.85L604.64,2514L615.07,2516.32L622.03,2517.48L626.67,2517.01L631.3,2517.94L635.94,2515.85L642.2,2510.06L649.86,2516.32L654.49,2518.17L663.77,2514.93L670.72,2515.85L674.2,2515.39L681.16,2517.48L686.96,2515.85L693.91,2516.78L700.41,2519.1L705.51,2514.93L708.99,2515.39L713.62,2518.17L720.58,2515.85L728.7,2517.24L739.13,2514.23L746.09,2515.16L750.72,2516.78L756.52,2514.46L760,2514.46L760,2519.1ZM760,2519.1L760,2514.46L764.64,2514.46L769.28,2516.09L776.23,2515.39L783.19,2516.09L787.36,2515.62L794.78,2519.1L800.58,2516.09L804.06,2516.78L807.54,2516.32L814.49,2517.24L819.13,2516.55L823.77,2518.4L828.41,2517.24L833.04,2517.48L841.16,2514.46L844.64,2516.32L852.75,2516.78L857.86,2515.62L866.67,2518.17L873.62,2515.16L879.42,2514.93L886.38,2516.09L893.33,2515.62L897.97,2514.23L901.91,2517.01L904.93,2517.94L908.41,2516.78L915.36,2516.55L922.32,2515.16L931.59,2519.1L942.03,2515.39L950.14,2517.71L955.94,2517.71L963.59,2515.85L969.86,2517.01L974.49,2517.48L980.29,2515.16L986.09,2516.78L991.88,2516.09L996.52,2514.46L1003.48,2515.62L1008.12,2517.01L1011.59,2516.32L1015.77,2513.07L1021.57,2518.17L1026.2,2516.09L1032.46,2519.1L1039.42,2516.32L1045.22,2517.94L1051.01,2517.01L1055.65,2517.48L1063.77,2516.32L1074.2,2519.1L1083.48,2515.62L1088.12,2516.78L1100.87,2514.46L1105.51,2514.69L1112,2512.38L1118.26,2514.46L1126.38,2517.01L1132.17,2516.32L1140.29,2518.64L1148.41,2515.39L1155.36,2517.48L1160,2515.85L1160,2519.1ZM1160,2519.1L1160,2515.85L1163.48,2515.39L1171.59,2517.24L1180.41,2514.69L1188.99,2517.48L1194.78,2516.32L1201.74,2515.85L1207.54,2517.24L1215.65,2512.38L1227.25,2518.17L1234.2,2515.85L1241.16,2517.94L1252.75,2517.24L1267.83,2517.24L1273.62,2514.23L1278.26,2514.46L1285.22,2516.32L1296.81,2518.64L1303.3,2515.16L1307.25,2516.09L1311.88,2513.3L1318.84,2514.23L1323.48,2516.09L1328.12,2516.09L1332.75,2517.71L1339.71,2515.62L1345.51,2516.55L1350.14,2517.94L1359.42,2511.91L1365.22,2513.3L1368.7,2514L1376.81,2519.1L1379.13,2518.64L1383.77,2517.94L1391.19,2514.46L1402.32,2518.4L1408.12,2516.09L1413.91,2515.85L1422.03,2517.01L1430.14,2516.55L1435.94,2515.39L1438.26,2513.3L1442.9,2511.68L1448.7,2517.01L1452.64,2518.4L1456.81,2515.85L1461.45,2515.16L1463.77,2516.09L1467.25,2515.39L1476.52,2517.48L1482.32,2517.24L1486.96,2518.17L1492.75,2517.24L1497.39,2518.64L1506.67,2514.23L1510.14,2515.62L1518.26,2515.39L1521.74,2517.01L1528.7,2513.3L1535.65,2514.69L1549.57,2516.09L1554.2,2518.64L1560,2517.24L1560,2519.1ZM1560,2519.1L1560,2517.24L1569.28,2514.46L1575.07,2515.62L1585.51,2515.16L1593.62,2517.01L1598.26,2515.85L1609.86,2518.64L1618.43,2513.77L1622.14,2514.93L1628.41,2513.77L1631.88,2515.16L1637.68,2514.23L1646.96,2515.62L1650.43,2518.64L1656.93,2518.64L1663.19,2512.14L1668.99,2516.32L1675.94,2519.1L1683.59,2513.53L1689.86,2518.17L1694.49,2519.1L1701.91,2515.85L1708.41,2518.64L1716.52,2517.24L1720.7,2518.64L1725.8,2514.46L1730.43,2515.85L1736.23,2514.93L1743.19,2517.01L1752.46,2515.39L1759.42,2513.07L1766.38,2516.32L1773.33,2517.94L1780.29,2519.1L1789.57,2515.62L1801.16,2516.32L1810.43,2517.48L1822.03,2515.62L1824.35,2516.55L1830.14,2514.23L1834.78,2515.39L1838.26,2515.16L1847.54,2518.4L1854.49,2516.55L1860.29,2516.55L1867.25,2514.93L1874.2,2517.01L1881.16,2517.01L1888.12,2517.71L1895.07,2517.48L1899.71,2515.39L1905.51,2517.94L1912.46,2519.1L1920.58,2516.32L1926.38,2518.17L1936.81,2516.78L1942.61,2515.16L1949.57,2515.16L1955.36,2514.46L1960,2514.93L1960,2519.1ZM1960,2519.1L1960,2515.16L1964.64,2515.16L1969.28,2516.55L1979.71,2513.77L1983.19,2514.23L1985.51,2516.55L1994.78,2517.24L2001.28,2515.62L2008.7,2517.71L2014.49,2515.85L2017.97,2516.55L2024.46,2513.07L2030.72,2517.24L2035.36,2514.46L2041.16,2514.23L2046.96,2517.01L2055.07,2517.48L2060.17,2515.85L2066.67,2517.94L2072.46,2514.23L2078.26,2517.24L2092.17,2514.93L2095.65,2517.94L2106.09,2515.62L2111.19,2513.53L2117.68,2518.17L2124.64,2516.55L2131.59,2516.09L2133.91,2516.55L2138.09,2516.09L2144.35,2517.71L2158.26,2517.71L2163.59,2515.85L2168.7,2516.78L2174.49,2517.01L2184.93,2519.1L2196.52,2517.24L2204.64,2515.39L2211.59,2512.38L2217.39,2518.64L2224.35,2515.85L2233.62,2517.71L2237.1,2517.48L2241.74,2515.62L2249.86,2517.24L2254.49,2516.09L2257.28,2519.1L2257.28,2519.1Z"/>
<line x1="143.08" x2="143.08" y1="2060.25" y2="2540.8" stroke="#000" stroke-width="4.17"/>
<line x1="131.5" x2="141" y1="2519.1" y2="2519.1" stroke="#333" stroke-width="4.4"/>
<text transform="translate(122.3,2532) scale(1,0.95)" font-size="36.67" fill="#4d4d4d" text-anchor="end">0</text>
<line x1="131.5" x2="141" y1="2353.1" y2="2353.1" stroke="#333" stroke-width="4.4"/>
<text transform="translate(122.3,2366) scale(1,0.95)" font-size="36.67" fill="#4d4d4d" text-anchor="end">2</text>
<line x1="131.5" x2="141" y1="2187.1" y2="2187.1" stroke="#333" stroke-width="4.4"/>
<text transform="translate(122.3,2200) scale(1,0.95)" font-size="36.67" fill="#4d4d4d" text-anchor="end">4</text>
<text transform="translate(208.1,2313.53) scale(1,0.96)" font-size="36.67" fill="#1a1a1a" text-anchor="middle">Input</text>
</g>
<text transform="translate(79.3,1293.2) rotate(-90) scale(1,0.96)" font-size="45.83" fill="#000" text-anchor="middle">P0 H3K4me3 ChIP-seq</text>
<g id="genes">
<line x1="143.08" x2="143.08" y1="2597.9" y2="2847.5" stroke="#000" stroke-width="4.17"/>
<text transform="translate(79.1,2722.5) rotate(-90) scale(1,0.96)" font-size="45.83" fill="#000" text-anchor="middle">Genes</text>
<line x1="274.4" x2="2354.2" y1="2847.3" y2="2847.3" stroke="#000" stroke-width="4.2"/>
<line x1="792.8" x2="792.8" y1="2847.3" y2="2858.7" stroke="#333" stroke-width="4.4"/>
<text transform="translate(792.8,2893.7) scale(0.993,0.95)" font-size="36.67" fill="#4d4d4d" text-anchor="middle">102480000</text>
<line x1="1467" x2="1467" y1="2847.3" y2="2858.7" stroke="#333" stroke-width="4.4"/>
<text transform="translate(1467,2893.7) scale(0.993,0.95)" font-size="36.67" fill="#4d4d4d" text-anchor="middle">102500000</text>
<line x1="2141.3" x2="2141.3" y1="2847.3" y2="2858.7" stroke="#333" stroke-width="4.4"/>
<text transform="translate(2141.3,2893.7) scale(0.993,0.95)" font-size="36.67" fill="#4d4d4d" text-anchor="middle">102520000</text>
<text transform="translate(1314.2,2945.2) scale(1,0.96)" font-size="45.83" fill="#000" text-anchor="middle">chr3 position (bp)</text>
<line x1="453.6" x2="2175.4" y1="2790.5" y2="2790.5" stroke="#00008B" stroke-width="4.8"/>
<rect x="453.3" y="2777.15" width="1.5" height="26.7" fill="#00008B"/>
<rect x="1794.3" y="2777.15" width="4.1" height="26.7" fill="#00008B"/>
<rect x="1937.2" y="2777.15" width="4.7" height="26.7" fill="#00008B"/>
<rect x="2145.04" y="2777.15" width="30.82" height="26.7" fill="#00008B"/>
<path fill="none" stroke="#00008B" stroke-width="4.3" stroke-linejoin="round" d="M445,2781.9L453.6,2790.5L445,2799.1M482.82,2781.9L491.42,2790.5L482.82,2799.1M520.63,2781.9L529.23,2790.5L520.63,2799.1M558.45,2781.9L567.05,2790.5L558.45,2799.1M596.26,2781.9L604.86,2790.5L596.26,2799.1M634.08,2781.9L642.68,2790.5L634.08,2799.1M671.9,2781.9L680.5,2790.5L671.9,2799.1M709.71,2781.9L718.31,2790.5L709.71,2799.1M747.53,2781.9L756.13,2790.5L747.53,2799.1M785.34,2781.9L793.94,2790.5L785.34,2799.1M823.16,2781.9L831.76,2790.5L823.16,2799.1M860.98,2781.9L869.58,2790.5L860.98,2799.1M898.79,2781.9L907.39,2790.5L898.79,2799.1M936.61,2781.9L945.21,2790.5L936.61,2799.1M974.42,2781.9L983.02,2790.5L974.42,2799.1M1012.24,2781.9L1020.84,2790.5L1012.24,2799.1M1050.06,2781.9L1058.66,2790.5L1050.06,2799.1M1087.87,2781.9L1096.47,2790.5L1087.87,2799.1M1125.69,2781.9L1134.29,2790.5L1125.69,2799.1M1163.5,2781.9L1172.1,2790.5L1163.5,2799.1M1201.32,2781.9L1209.92,2790.5L1201.32,2799.1M1239.14,2781.9L1247.74,2790.5L1239.14,2799.1M1276.95,2781.9L1285.55,2790.5L1276.95,2799.1M1314.77,2781.9L1323.37,2790.5L1314.77,2799.1M1352.58,2781.9L1361.18,2790.5L1352.58,2799.1M1390.4,2781.9L1399,2790.5L1390.4,2799.1M1428.22,2781.9L1436.82,2790.5L1428.22,2799.1M1466.03,2781.9L1474.63,2790.5L1466.03,2799.1M1503.85,2781.9L1512.45,2790.5L1503.85,2799.1M1541.66,2781.9L1550.26,2790.5L1541.66,2799.1M1579.48,2781.9L1588.08,2790.5L1579.48,2799.1M1617.3,2781.9L1625.9,2790.5L1617.3,2799.1M1655.11,2781.9L1663.71,2790.5L1655.11,2799.1M1692.93,2781.9L1701.53,2790.5L1692.93,2799.1M1730.74,2781.9L1739.34,2790.5L1730.74,2799.1M1768.56,2781.9L1777.16,2790.5L1768.56,2799.1M1806.38,2781.9L1814.98,2790.5L1806.38,2799.1M1844.19,2781.9L1852.79,2790.5L1844.19,2799.1M1882.01,2781.9L1890.61,2790.5L1882.01,2799.1M1919.82,2781.9L1928.42,2790.5L1919.82,2799.1M1957.64,2781.9L1966.24,2790.5L1957.64,2799.1M1995.46,2781.9L2004.06,2790.5L1995.46,2799.1M2033.27,2781.9L2041.87,2790.5L2033.27,2799.1M2071.09,2781.9L2079.69,2790.5L2071.09,2799.1M2108.9,2781.9L2117.5,2790.5L2108.9,2799.1M2167.3,2781.9L2175.9,2790.5L2167.3,2799.1"/>
<text transform="translate(1314.6,2709.9) scale(1,0.96)" font-size="29.6" fill="#000" text-anchor="middle">Ngf</text>
</g>
</svg></body></html>
